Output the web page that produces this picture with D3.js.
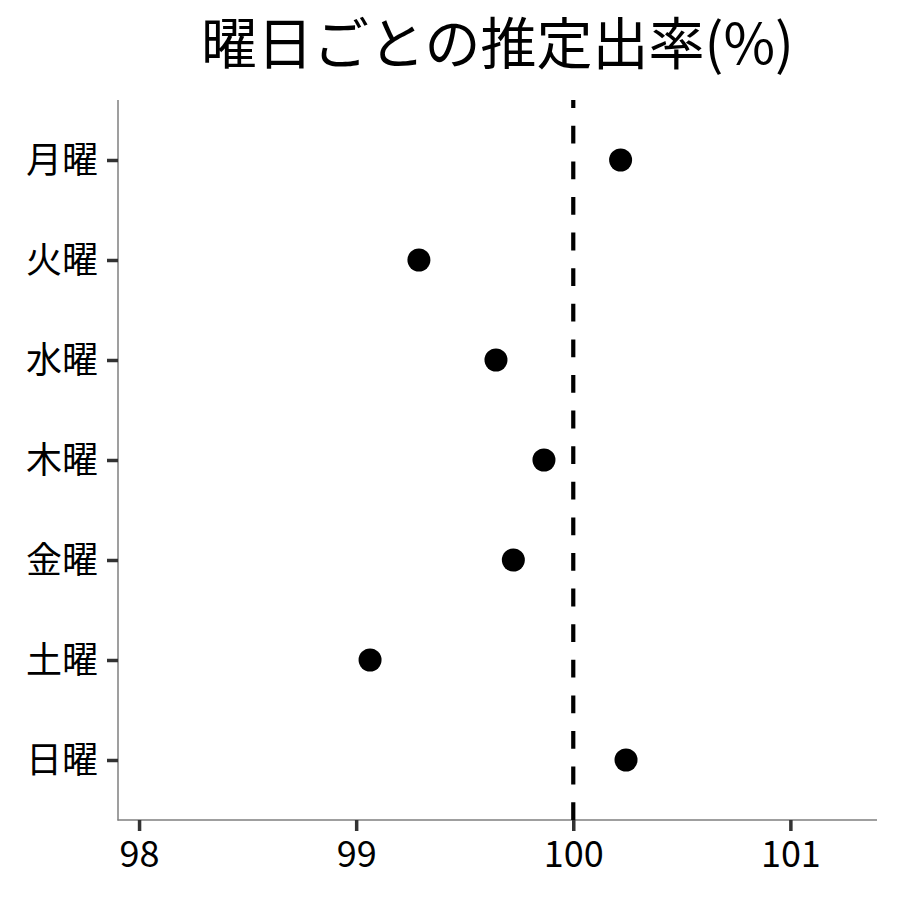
<!DOCTYPE html>
<html>
<head>
<meta charset="utf-8">
<script src="https://cdn.jsdelivr.net/npm/d3@7"></script>
<style>
  body { margin: 0; background: #fff; }
  svg text { font-family: "Noto Sans CJK JP", "Noto Sans", sans-serif; }
</style>
</head>
<body>
<svg id="chart" width="900" height="900"></svg>
<script>
const title = "曜日ごとの推定出率(%)";
const days = ["月曜", "火曜", "水曜", "木曜", "金曜", "土曜", "日曜"];
const rates = [100.218, 99.289, 99.644, 99.865, 99.724, 99.064, 100.243];
const xTicks = [98, 99, 100, 101];
const refValue = 100;

const svg = d3.select("#chart");
const plotLeft = 118, plotRight = 877, plotTop = 100, plotBottom = 820;

const x = d3.scaleLinear().domain([97.903, 101.399]).range([plotLeft, plotRight]);
const y = d3.scalePoint().domain(days).range([plotTop, plotBottom]).padding(0.6);

// axis lines
svg.append("line").attr("x1", plotLeft).attr("x2", plotLeft).attr("y1", plotTop).attr("y2", plotBottom + 0.5)
  .attr("stroke", "#7f7f7f").attr("stroke-width", 1.5);
svg.append("line").attr("x1", plotLeft - 0.5).attr("x2", plotRight).attr("y1", plotBottom).attr("y2", plotBottom)
  .attr("stroke", "#7f7f7f").attr("stroke-width", 1.5);

// x axis
const xAxis = d3.axisBottom(x).tickValues(xTicks).tickSize(11).tickPadding(4).tickFormat(d3.format("d"));
const gx = svg.append("g").attr("transform", `translate(0,${plotBottom})`).call(xAxis);
gx.select(".domain").remove();
gx.selectAll(".tick line").attr("stroke", "#333").attr("stroke-width", 3.5);
gx.selectAll(".tick text").attr("fill", "#000").attr("font-size", 36)
  .attr("font-family", "Noto Sans CJK JP").attr("dy", null).attr("y", 47);

// y axis
const yAxis = d3.axisLeft(y).tickSize(11).tickPadding(9);
const gy = svg.append("g").attr("transform", `translate(${plotLeft},0)`).call(yAxis);
gy.select(".domain").remove();
gy.selectAll(".tick line").attr("stroke", "#333").attr("stroke-width", 3.5);
gy.selectAll(".tick text").attr("fill", "#000").attr("font-size", 36)
  .attr("font-family", "Noto Sans CJK JP").attr("dy", "0.34em");

// reference dashed line (drawn from bottom up)
svg.append("line")
  .attr("x1", x(refValue)).attr("x2", x(refValue))
  .attr("y1", plotBottom).attr("y2", plotTop)
  .attr("stroke", "#000").attr("stroke-width", 4.2)
  .attr("stroke-dasharray", "17.8,17.8");

// points
svg.append("g").selectAll("circle")
  .data(days.map((d, i) => ({ day: d, v: rates[i] })))
  .join("circle")
  .attr("cx", d => x(d.v))
  .attr("cy", d => y(d.day))
  .attr("r", 11.5)
  .attr("fill", "#000");

// title
svg.append("text")
  .attr("x", (plotLeft + plotRight) / 2).attr("y", 64)
  .attr("text-anchor", "middle")
  .attr("font-size", 56)
  .attr("fill", "#000")
  .text(title);
</script>
</body>
</html>
